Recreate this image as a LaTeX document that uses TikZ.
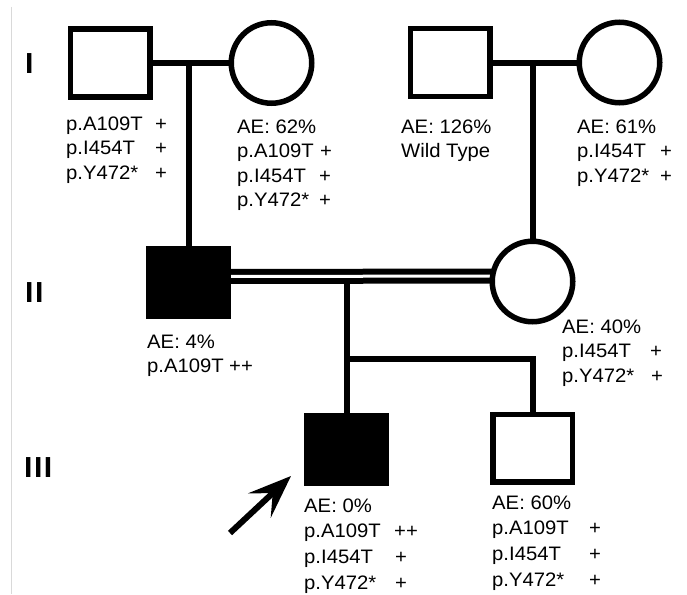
\documentclass[tikz,border=0pt]{standalone}
\usepackage{fontspec}
\setmainfont{Liberation Sans}[FakeStretch=1.04]
\usetikzlibrary{arrows.meta,backgrounds}
\newcommand\pl[2]{\makebox[#1][l]{#2}}
\begin{document}
\begin{tikzpicture}[x=1pt,y=-1pt,
  ped/.style={line width=5.5pt, draw=black, inner sep=0pt},
  male/.style={ped, rectangle, minimum width=79.5pt, minimum height=67.5pt, fill=white},
  female/.style={ped, circle, minimum size=80.5pt, fill=white},
  affected/.style={fill=black},
  conn/.style={line width=6pt, line join=miter},
  lbl/.style={anchor=base west, inner sep=0pt, font=\fontsize{19.5}{24.5}\selectfont},
  lblb/.style={lbl, font=\fontsize{19.5}{25.8}\selectfont},
  gen/.style={anchor=base west, inner sep=0pt, font=\fontsize{29}{29}\selectfont\bfseries}]
\useasboundingbox (0,0) rectangle (687,594);
\draw[black!15, line width=1pt] (11.5,7) -- (11.5,594);

% generation labels
\node[gen] (g1) at (25,73) {I};
\node[gen] (g2) at (25,302) {I\kern1.5ptI};
\node[gen] (g3) at (24,477) {I\kern1.5ptI\kern1.5ptI};

% individuals
\node[male] (I1) at (110,63) {};
\node[female] (I2) at (271.5,63) {};
\node[male] (I3) at (450,62.5) {};
\node[female] (I4) at (619.5,62.5) {};
\node[male,affected] (II1) at (188,282) {};
\node[female] (II2) at (532.5,281.5) {};
\node[male,affected] (III1) at (346,449.5) {};
\node[male] (III2) at (532.5,448) {};

\coordinate (m1) at (189,63);
\coordinate (m2) at (533,62.5);
\coordinate (c) at (347,281);
\coordinate (s1) at (347,358.5);
\coordinate (s2) at (532.5,358.5);

\begin{scope}[on background layer]
\draw[conn] (I1) -- (I2);
\draw[conn] (m1) -- (m1 |- II1.north);
\draw[conn] (I3) -- (I4);
\draw[conn] (m2) -- (m2 |- II2.north);
\draw[conn, double distance=3pt] ([yshift=5.5pt]II1.center) -- ([yshift=5.5pt]II2.center);
\draw[conn] (c) -- (c |- III1.north);
\draw[conn] (s1) -- (s2) -- (s2 |- III2.north);
\end{scope}

% proband arrow
\coordinate (a0) at (230,533);
\coordinate (a1) at (291,476);
\draw[line width=6pt, -{Stealth[length=43pt,width=33pt,inset=18pt]}] (a0) -- (a1);

% labels
\node[lbl] (t1) at (66,130) {\begin{tabular}[t]{@{}l@{}}\pl{89pt}{p.A109T}+\\ \pl{89pt}{p.I454T}+\\ \pl{89pt}{p.Y472*}+\end{tabular}};
\node[lbl] (t2) at (237,133) {\begin{tabular}[t]{@{}l@{}}AE: 62\%\\ \pl{83pt}{p.A109T}+\\ \pl{82pt}{p.I454T}+\\ \pl{82pt}{p.Y472*}+\end{tabular}};
\node[lbl] (t3) at (401,133) {\begin{tabular}[t]{@{}l@{}}AE: 126\%\\ Wild Type\end{tabular}};
\node[lbl] (t4) at (577,133) {\begin{tabular}[t]{@{}l@{}}AE: 61\%\\ \pl{83pt}{p.I454T}+\\ \pl{83pt}{p.Y472*}+\end{tabular}};
\node[lbl] (t5) at (147,348) {\begin{tabular}[t]{@{}l@{}}AE: 4\%\\ \pl{82pt}{p.A109T}++\end{tabular}};
\node[lbl] (t6) at (562,333) {\begin{tabular}[t]{@{}l@{}}AE: 40\%\\ \pl{88pt}{p.I454T}+\\ \pl{89pt}{p.Y472*}+\end{tabular}};
\node[lblb] (t7) at (304,512) {\begin{tabular}[t]{@{}l@{}}AE: 0\%\\ \pl{90pt}{p.A109T}++\\ \pl{91pt}{p.I454T}+\\ \pl{91pt}{p.Y472*}+\end{tabular}};
\node[lblb] (t8) at (492,509) {\begin{tabular}[t]{@{}l@{}}AE: 60\%\\ \pl{97pt}{p.A109T}+\\ \pl{97pt}{p.I454T}+\\ \pl{97pt}{p.Y472*}+\end{tabular}};
\end{tikzpicture}
\end{document}
